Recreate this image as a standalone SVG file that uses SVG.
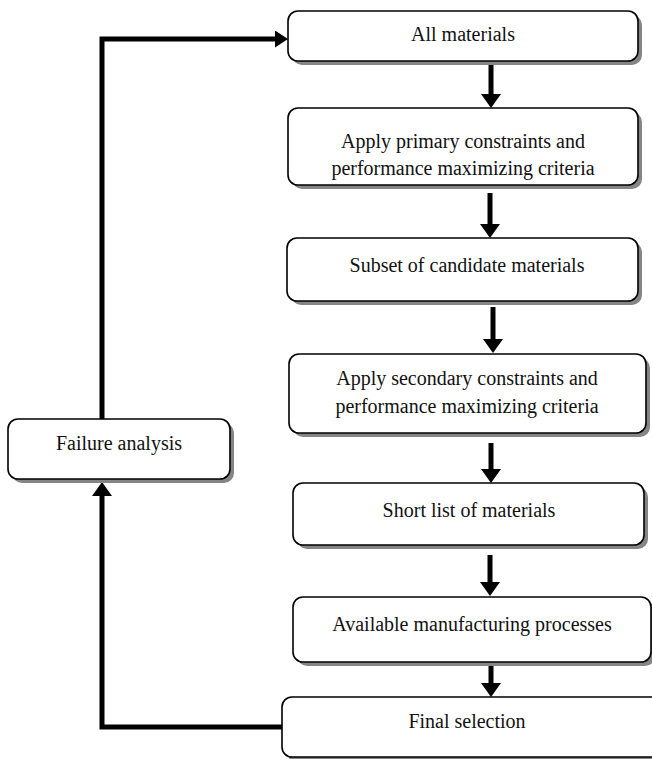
<svg xmlns="http://www.w3.org/2000/svg" width="652" height="759" viewBox="0 0 652 759">
<style>
.box{fill:#fff;stroke:#000;stroke-width:1.6}
.shadow{fill:#858585}
.lbl{font-family:"Liberation Serif","Times New Roman",serif;font-size:20px;fill:#111;text-anchor:middle}
.conn{fill:none;stroke:#000;stroke-width:5}
</style>
<defs>
<marker id="big" markerUnits="userSpaceOnUse" markerWidth="14" markerHeight="20" refX="0" refY="10" orient="auto">
<path d="M0,0 L14,10 L0,20 Z" fill="#000"/>
</marker>
<marker id="small" markerUnits="userSpaceOnUse" markerWidth="13" markerHeight="17" refX="0" refY="8.5" orient="auto">
<path d="M0,0 L13,8.5 L0,17 Z" fill="#000"/>
</marker>
<clipPath id="c2"><rect x="289" y="109" width="348" height="75" rx="9"/></clipPath>
</defs>
<rect width="652" height="759" fill="#fff"/>

<g id="connectors">
<line class="conn" x1="491" y1="64" x2="491" y2="94" marker-end="url(#big)"/>
<line class="conn" x1="490" y1="193" x2="490" y2="224" marker-end="url(#big)"/>
<line class="conn" x1="493" y1="307" x2="493" y2="339" marker-end="url(#big)"/>
<line class="conn" x1="491" y1="443" x2="491" y2="469" marker-end="url(#big)"/>
<line class="conn" x1="490" y1="555" x2="490" y2="582" marker-end="url(#big)"/>
<line class="conn" x1="491" y1="666" x2="491" y2="683" marker-end="url(#big)"/>
<path class="conn" d="M102,419 V39 H275" marker-end="url(#small)"/>
<path class="conn" d="M282,727 H102 V496" marker-end="url(#big)"/>
</g>

<g id="n1">
<rect class="shadow" x="292" y="15" width="350" height="50" rx="10"/>
<rect class="box" x="288" y="11" width="350" height="50" rx="10"/>
<text class="lbl" x="463" y="41">All materials</text>
</g>

<g id="n2">
<rect class="shadow" x="292" y="112" width="350" height="77" rx="10"/>
<rect class="box" x="288" y="108" width="350" height="77" rx="10"/>
<g clip-path="url(#c2)">
<text class="lbl" x="463" y="148">Apply primary constraints and</text>
<text class="lbl" x="463" y="175">performance maximizing criteria</text>
</g>
</g>

<g id="n3">
<rect class="shadow" x="291" y="242" width="351" height="63" rx="10"/>
<rect class="box" x="287" y="238" width="351" height="63" rx="10"/>
<text class="lbl" x="467" y="272">Subset of candidate materials</text>
</g>

<g id="n4">
<rect class="shadow" x="293" y="358" width="357" height="79" rx="10"/>
<rect class="box" x="289" y="354" width="357" height="79" rx="10"/>
<text class="lbl" x="467" y="385">Apply secondary constraints and</text>
<text class="lbl" x="467" y="413">performance maximizing criteria</text>
</g>

<g id="n5">
<rect class="shadow" x="297" y="487" width="351" height="62" rx="10"/>
<rect class="box" x="293" y="483" width="351" height="62" rx="10"/>
<text class="lbl" x="469" y="517">Short list of materials</text>
</g>

<g id="n6">
<rect class="shadow" x="297" y="601" width="358" height="65" rx="10"/>
<rect class="box" x="293" y="597" width="358" height="65" rx="10"/>
<text class="lbl" x="472" y="631">Available manufacturing processes</text>
</g>

<g id="n7">
<rect class="shadow" x="286" y="701" width="380" height="60" rx="10"/>
<rect class="box" x="282" y="697" width="380" height="60" rx="10"/>
<text class="lbl" x="467" y="728">Final selection</text>
</g>

<g id="n8">
<rect class="shadow" x="12" y="423" width="222" height="60" rx="10"/>
<rect class="box" x="8" y="419" width="222" height="60" rx="10"/>
<text class="lbl" x="119" y="450">Failure analysis</text>
</g>
</svg>
